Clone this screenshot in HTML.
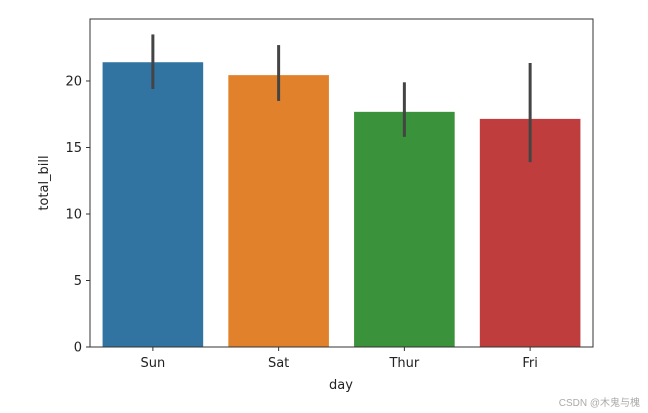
<!DOCTYPE html>
<html><head><meta charset="utf-8"><style>body{margin:0;background:#fff}svg{display:block;font-family:"DejaVu Sans","Liberation Sans",sans-serif}</style></head>
<body>
<svg id="chart" width="648" height="413" viewBox="0 0 648 413" xmlns="http://www.w3.org/2000/svg">
<g id="plot"></g>
<text x="48" y="183" font-size="13" text-anchor="middle" transform="rotate(-90 48 183)" fill="#222">total_bill</text>
<text x="341" y="389" font-size="13" text-anchor="middle" fill="#222">day</text>
<text x="640" y="406" font-size="10" text-anchor="end" fill="#aaa" font-family="Liberation Sans, Noto Sans CJK SC, sans-serif">CSDN @木鬼与槐</text>
</svg>
<script>
const categories = ["Sun","Sat","Thur","Fri"];
const values = [21.41, 20.44, 17.68, 17.15];
const errLow = [19.4, 18.5, 15.8, 13.9];
const errHigh = [23.5, 22.7, 19.9, 21.35];
const yTicks = [0,5,10,15,20];
const colors = ["#3274a1","#e1812c","#3a923a","#c03d3e"];
const L=90,R=593,T=19,B=347,yMax=24.66;
const ns="http://www.w3.org/2000/svg";
const g=document.getElementById('plot');
const y=v=>B-(v/yMax)*(B-T);
const step=(R-L)/categories.length;
const xc=i=>L+step*(i+0.5);
function mk(t,a){const e=document.createElementNS(ns,t);for(const k in a)e.setAttribute(k,a[k]);g.appendChild(e);return e;}
categories.forEach((c,i)=>{
  const b=mk('rect',{x:xc(i)-step*0.4,y:y(values[i]),width:step*0.8,height:B-y(values[i]),fill:colors[i]});
  
  
  const e=mk('line',{x1:xc(i),x2:xc(i),y1:y(errLow[i]),y2:y(errHigh[i]),stroke:'#444','stroke-width':3});
  
  
  const tk=mk('line',{x1:xc(i),x2:xc(i),y1:B,y2:B+4,stroke:'#333'});
  
  
  const t=mk('text',{x:xc(i),y:B+20,'font-size':13,'text-anchor':'middle',fill:'#222'});
  t.textContent=c;
  
  
});
yTicks.forEach(v=>{
  const tk=mk('line',{x1:L-4,x2:L,y1:y(v),y2:y(v),stroke:'#333'});
  
  
  const t=mk('text',{x:L-8,y:y(v)+4.5,'font-size':13,'text-anchor':'end',fill:'#222'});
  t.textContent=v;
  
  
});
const f=mk('rect',{x:L,y:T,width:R-L,height:B-T,fill:'none',stroke:'#333','stroke-width':1});


</script>
</body></html>
